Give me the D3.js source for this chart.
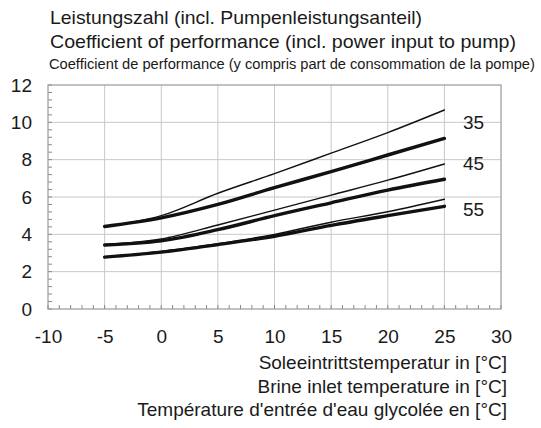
<!DOCTYPE html>
<html><head><meta charset="utf-8">
<script src="https://cdn.jsdelivr.net/npm/d3@7"></script>
<style>body{margin:0;background:#fff}svg{display:block}text{font-family:"Liberation Sans",Arial,sans-serif;fill:#1a1a1a}</style>
</head><body><svg id="c" width="541" height="428"></svg>
<script>
const temps = [-5, 0, 5, 10, 15, 20, 25];
const cop35a = [4.42, 5.0, 6.2, 7.25, 8.35, 9.45, 10.66];
const cop35b = [4.42, 4.88, 5.6, 6.5, 7.36, 8.25, 9.14];
const cop45a = [3.45, 3.75, 4.5, 5.3, 6.1, 6.9, 7.77];
const cop45b = [3.43, 3.65, 4.25, 5.0, 5.69, 6.37, 6.95];
const cop55a = [2.78, 3.08, 3.5, 4.0, 4.65, 5.21, 5.88];
const cop55b = [2.78, 3.05, 3.45, 3.9, 4.48, 5.0, 5.5];
const xTicks = [-10, -5, 0, 5, 10, 15, 20, 25, 30];
const yTicks = [0, 2, 4, 6, 8, 10, 12];
const curveLabels = [{t:"35", v:10.0}, {t:"45", v:7.8}, {t:"55", v:5.35}];
const titleLines = ["Leistungszahl (incl. Pumpenleistungsanteil)", "Coefficient of performance (incl. power input to pump)", "Coefficient de performance (y compris part de consommation de la pompe)"];
const xTitleLines = ["Soleeintrittstemperatur in [°C]", "Brine inlet temperature in [°C]", "Température d'entrée d'eau glycolée en [°C]"];

const svg = d3.select("#c");
const L = 48, R = 501, T = 85, B = 309;
const x = d3.scaleLinear().domain([-10, 30]).range([L, R]);
const y = d3.scaleLinear().domain([0, 12]).range([B, T]);

// grid
svg.append("g").selectAll("line").data(xTicks.slice(1, -1)).join("line")
  .attr("x1", d => x(d)).attr("x2", d => x(d)).attr("y1", T).attr("y2", B)
  .attr("stroke", "#c8c8c8").attr("stroke-width", 1);
svg.append("g").selectAll("line").data(yTicks.slice(1, -1)).join("line")
  .attr("y1", d => y(d)).attr("y2", d => y(d)).attr("x1", L).attr("x2", R)
  .attr("stroke", "#c8c8c8").attr("stroke-width", 1);

// minor ticks
const xMinor = d3.range(-10, 30.01, 1);
const yMinor = d3.range(0, 12.01, 0.4);
svg.append("g").selectAll("line").data(xMinor).join("line")
  .attr("x1", d => x(d)).attr("x2", d => x(d)).attr("y1", B).attr("y2", B - 4)
  .attr("stroke", "#888").attr("stroke-width", 1);
svg.append("g").selectAll("line").data(yMinor).join("line")
  .attr("y1", d => y(d)).attr("y2", d => y(d)).attr("x1", L).attr("x2", L + 4)
  .attr("stroke", "#888").attr("stroke-width", 1);

// frame
svg.append("rect").attr("x", L).attr("y", T).attr("width", R - L).attr("height", B - T)
  .attr("fill", "none").attr("stroke", "#999").attr("stroke-width", 1.2);

// axes labels
const yAxis = d3.axisLeft(y).tickValues(yTicks).tickSize(0).tickPadding(16).tickFormat(d => String(d));
const gy = svg.append("g").attr("transform", `translate(${L},0)`).call(yAxis);
gy.select(".domain").remove();
gy.selectAll("text").attr("font-size", 19).attr("font-family", "Liberation Sans, Arial, sans-serif").attr("fill", "#1a1a1a");

const xAxis = d3.axisBottom(x).tickValues(xTicks).tickSize(0).tickPadding(21).tickFormat(d => String(d));
const gx = svg.append("g").attr("transform", `translate(0,${B})`).call(xAxis);
gx.select(".domain").remove();
gx.selectAll("text").attr("font-size", 19).attr("font-family", "Liberation Sans, Arial, sans-serif").attr("fill", "#1a1a1a");

// lines
const line = d3.line().x((d, i) => x(temps[i])).y(d => y(d)).curve(d3.curveMonotoneX);
const series = [
  {v: cop35a, w: 1.4}, {v: cop35b, w: 3.4},
  {v: cop45a, w: 1.4}, {v: cop45b, w: 3.4},
  {v: cop55a, w: 1.4}, {v: cop55b, w: 3.4}
];
svg.append("g").selectAll("path").data(series).join("path")
  .attr("d", d => line(d.v)).attr("fill", "none").attr("stroke", "#111")
  .attr("stroke-width", d => d.w).attr("stroke-linecap", "round");

// curve labels
svg.append("g").selectAll("text").data(curveLabels).join("text")
  .attr("x", 463).attr("y", d => y(d.v)).attr("dy", "0.36em")
  .attr("font-size", 19).text(d => d.t);

// title
svg.append("text").attr("x", 50).attr("y", 24).attr("font-size", 19)
  .attr("textLength", 372).attr("lengthAdjust", "spacingAndGlyphs").text(titleLines[0]);
svg.append("text").attr("x", 50).attr("y", 48).attr("font-size", 19)
  .attr("textLength", 466).attr("lengthAdjust", "spacingAndGlyphs").text(titleLines[1]);
const t3 = svg.append("text").attr("font-size", 15.5).text(titleLines[2]);
const w3 = t3.node().getComputedTextLength();
t3.attr("transform", `translate(49,69) scale(${486 / w3},1)`);

// x title
svg.append("g").selectAll("text").data(xTitleLines).join("text")
  .attr("x", 507).attr("y", (d, i) => 369 + i * 23.5).attr("text-anchor", "end")
  .attr("font-size", 19).text(d => d);
</script></body></html>
